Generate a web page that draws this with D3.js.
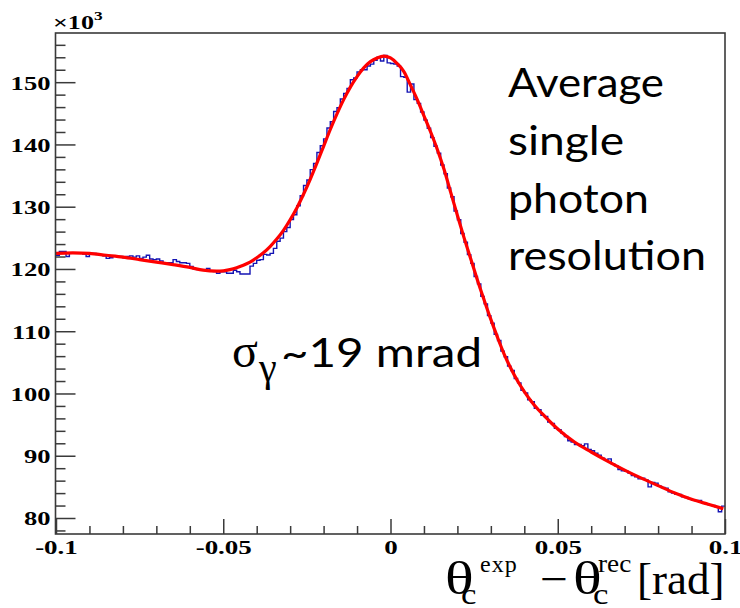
<!DOCTYPE html>
<html><head><meta charset="utf-8">
<script src="https://cdn.jsdelivr.net/npm/d3@7"></script>
<style>body{margin:0;background:#fff;} svg{display:block;background:#fff;}</style>
</head><body><svg id="c" width="740" height="608"></svg>
<script>
// ---- data (counts in units of 10^3) ----
const histRange = [-0.1, 0.1];
const histCounts = [
 122.2,122.8,122.8,122.0,122.5,122.6,122.5,122.6,122.4,122.0,
 122.4,122.5,122.3,122.2,122.1,121.7,121.8,122.1,122.0,122.0,
 121.8,122.0,122.1,121.9,122.1,121.7,121.9,122.2,121.6,121.5,
 121.6,121.3,121.0,121.0,121.0,121.5,121.2,121.0,121.0,120.9,
 120.4,120.0,119.9,119.8,119.9,120.1,119.7,119.6,119.3,119.55,
 119.55,119.3,119.3,119.8,119.55,119.2,119.2,119.2,120.45,120.9,
 121.4,121.5,122.35,122.25,122.5,123.3,124.45,124.95,126.0,126.65,
 127.95,128.7,130.15,131.75,133.4,134.3,135.95,136.95,138.7,139.8,
 140.9,142.65,143.65,145.3,145.9,147.3,148.2,149.0,150.4,150.7,
 151.65,152.0,152.0,152.6,152.9,153.5,154.0,153.4,154.3,153.1,
 153.0,152.9,152.6,150.9,150.8,148.4,149.7,147.2,146.6,145.2,
 143.9,142.6,141.1,139.7,138.6,136.7,135.3,133.0,131.6,129.3,
 127.9,125.7,124.3,122.3,120.9,118.8,117.6,115.6,114.4,112.5,
 111.3,109.5,108.5,106.8,105.9,104.4,103.7,102.4,101.7,100.5,
 100.1,99.0,98.7,97.6,97.4,96.5,96.3,95.4,95.2,94.4,
 94.2,93.6,93.1,92.4,92.2,91.8,91.8,91.6,91.9,91.0,
 90.8,90.4,90.1,89.6,89.3,89.5,88.7,88.4,87.8,87.6,
 87.5,87.2,86.8,86.6,86.3,86.4,86.1,85.0,85.7,85.6,
 85.1,84.9,84.8,84.2,84.0,83.8,83.8,83.4,83.3,83.1,
 82.9,82.8,82.8,82.4,82.3,82.1,82.0,81.8,81.0,81.9
];
const fitX = [-0.1,-0.095,-0.09,-0.085,-0.08,-0.075,-0.07,-0.065,-0.06,-0.056,-0.052,-0.05,-0.048,-0.046,-0.044,-0.042,-0.04,-0.038,-0.036,-0.034,-0.032,-0.03,-0.028,-0.026,-0.024,-0.022,-0.02,-0.018,-0.016,-0.014,-0.012,-0.01,-0.008,-0.006,-0.004,-0.002,0,0.002,0.004,0.006,0.008,0.01,0.012,0.014,0.016,0.018,0.02,0.022,0.024,0.026,0.028,0.03,0.032,0.034,0.036,0.038,0.04,0.042,0.044,0.046,0.048,0.05,0.055,0.06,0.065,0.07,0.075,0.08,0.085,0.09,0.095,0.0995];
const fitY = [122.5,122.6,122.5,122.2,121.9,121.5,121.1,120.7,120.25,119.8,119.65,119.7,119.9,120.2,120.6,121.1,121.8,122.6,123.6,124.8,126.2,127.9,129.8,132.0,134.4,137.0,139.7,142.4,144.9,147.2,149.2,150.9,152.3,153.3,153.9,154.2,153.9,153.0,151.7,149.5,147.2,144.6,142.0,139.2,136.0,132.3,128.6,125.0,121.6,118.2,115.0,111.9,109.0,106.3,104.0,102.0,100.3,98.8,97.5,96.4,95.3,94.3,92.2,90.6,89.1,87.7,86.4,85.2,84.0,83.0,82.2,81.5];
const xTickMajor = [-0.1,-0.05,0,0.05,0.1];
const xTickMinor = [-0.09,-0.08,-0.07,-0.06,-0.04,-0.03,-0.02,-0.01,0.01,0.02,0.03,0.04,0.06,0.07,0.08,0.09];
const yTickMajor = [80,90,100,110,120,130,140,150];
const yTickMinor = [78,82,84,86,88,92,94,96,98,102,104,106,108,112,114,116,118,122,124,126,128,132,134,136,138,142,144,146,148,152,154,156];
const textLines = ["Average","single","photon","resolution"];
const yScaleLabel = "\u00d710";

// ---- drawing ----
const svg = d3.select("#c");
const x = d3.scaleLinear().domain(histRange).range([56, 725]);
const y = d3.scaleLinear().domain([77.43, 157.9]).range([534, 33]);

const plot = svg.append("g");
svg.append("defs").append("clipPath").attr("id","clip")
  .append("rect").attr("x",56).attr("y",33).attr("width",669).attr("height",501);

// histogram
const n = histCounts.length;
const edges = d3.range(n + 1).map(i => histRange[0] + i * (histRange[1] - histRange[0]) / n);
const histPts = histCounts.map((v, i) => [edges[i], v]);
histPts.push([edges[n], histCounts[n - 1]]);
plot.append("path").attr("clip-path","url(#clip)")
  .attr("d", d3.line().x(d => x(d[0])).y(d => y(d[1])).curve(d3.curveStepAfter)(histPts))
  .attr("fill","none").attr("stroke","#1414b4").attr("stroke-width",1.4);

// fit
plot.append("path")
  .attr("d", d3.line().x((d,i) => x(fitX[i])).y(d => y(d)).curve(d3.curveMonotoneX)(fitY))
  .attr("fill","none").attr("stroke","#ff0000").attr("stroke-width",3.2).attr("stroke-linejoin","round");

// frame
svg.append("rect").attr("x",55.5).attr("y",33).attr("width",669.5).attr("height",501)
  .attr("fill","none").attr("stroke","#3a3a3a").attr("stroke-width",1.6);

// y axis
const yAxMinor = svg.append("g").attr("transform","translate(55.5,0)")
  .call(d3.axisLeft(y).tickValues(yTickMinor).tickSize(-10).tickFormat(""));
const yAx = svg.append("g").attr("transform","translate(55.5,0)")
  .call(d3.axisLeft(y).tickValues(yTickMajor).tickSize(-20).tickPadding(5));
// x axis
const xAxMinor = svg.append("g").attr("transform","translate(0,534)")
  .call(d3.axisBottom(x).tickValues(xTickMinor).tickSize(-8).tickFormat(""));
const xAx = svg.append("g").attr("transform","translate(0,534)")
  .call(d3.axisBottom(x).tickValues(xTickMajor).tickSize(-15).tickPadding(7).tickFormat(d => String(d)));

[yAxMinor, yAx, xAxMinor, xAx].forEach(g => {
  g.select(".domain").remove();
  g.selectAll("line").attr("stroke","#3a3a3a").attr("stroke-width",1.5);
});
yAx.selectAll("text")
  .attr("font-family","Liberation Serif, Times New Roman, serif").attr("font-weight","bold")
  .attr("font-size",19).attr("fill","#000")
  .attr("x", -5/1.4).attr("dy","0.36em").attr("transform","scale(1.4,1)");
xAx.selectAll("text")
  .attr("font-family","Liberation Serif, Times New Roman, serif").attr("font-weight","bold")
  .attr("font-size",18).attr("fill","#000")
  .attr("transform","scale(1.5,1)");

// x10^3
const sc = svg.append("text").attr("transform","translate(53,29) scale(1.45,1)")
  .attr("font-family","Liberation Serif, serif").attr("font-weight","bold").attr("font-size",18).attr("fill","#000");
sc.append("tspan").text(yScaleLabel);
sc.append("tspan").attr("font-size",12).attr("dy",-9).text("3");

// axis title
const serif = "Liberation Serif, Times New Roman, serif";
function t(xp, yp, str, size, sx, extra) {
  const e = svg.append("text").attr("transform",`translate(${xp},${yp}) scale(${sx},1)`)
    .attr("font-family",serif).attr("font-size",size).attr("fill","#000").text(str);
  if (extra) extra(e);
  return e;
}
t(445, 594, "\u03b8", 46, 1.3);
t(461, 604, "c", 29, 1.2);
t(480, 572, "exp", 24, 1.0, e => e.attr("letter-spacing",1));
t(540, 594, "\u2212", 45, 1.1);
t(573, 594, "\u03b8", 46, 1.3);
t(593, 604, "c", 29, 1.2);
t(598, 572, "rec", 26, 1.05);
t(637, 594, "[rad]", 45, 1.0);

// annotation block
const sans = "Lato, Open Sans, sans-serif";
const lineLen = [156, 116, 141, 198];
const lineBase = [97, 155, 213, 270];
textLines.forEach((s, i) => {
  svg.append("text").attr("x",508).attr("y",lineBase[i]).attr("font-family",sans)
    .attr("font-size",40).attr("fill","#000")
    .attr("textLength",lineLen[i]).attr("lengthAdjust","spacingAndGlyphs").text(s);
});

// sigma annotation
svg.append("text").attr("x",232).attr("y",367).attr("font-family",serif).attr("font-size",48).attr("fill","#000").text("\u03c3");
svg.append("text").attr("x",259).attr("y",381).attr("font-family",serif).attr("font-size",40).attr("fill","#000").text("\u03b3");
svg.append("text").attr("x",281).attr("y",367).attr("font-family",sans).attr("font-size",40).attr("fill","#000")
  .attr("textLength",201).attr("lengthAdjust","spacingAndGlyphs").text("~19 mrad");
</script></body></html>
